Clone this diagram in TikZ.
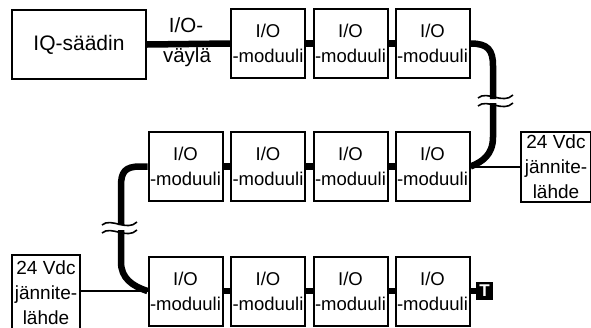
\documentclass[tikz,border=0pt]{standalone}
\usepackage{fontspec}
\setmainfont{Liberation Sans}
\begin{document}
\begin{tikzpicture}[x=1pt,y=-1pt,
  box/.style={draw, line width=2pt, inner sep=0pt},
  module/.style={box, minimum width=74pt, minimum height=69pt, align=center, font=\fontsize{18.5}{25}\selectfont},
  psu/.style={box, minimum width=70pt, align=center, font=\fontsize{19}{25}\selectfont},
  bus/.style={line width=6.5pt},
  thinline/.style={line width=2pt},
  wave/.style={line width=1.6pt},
  lbl/.style={inner sep=0pt, anchor=base, font=\fontsize{20.5}{24}\selectfont},
]
\useasboundingbox (0,0) rectangle (591,327);
\clip (0,0) rectangle (591,327);

% controller
\node[box, minimum width=134pt, minimum height=69pt, font=\fontsize{21}{25}\selectfont] (iq) at (79,44.5) {IQ-säädin};
\node[lbl] (lbA) at (186,32) {I/O-};
\node[lbl] (lbB) at (187,62) {väylä};

% top row
\node[module] (t2) at (268,43.5) {I/O\\-moduuli};
\node[module] (t3) at (350.5,43.5) {I/O\\-moduuli};
\node[module] (t4) at (432.5,43.5) {I/O\\-moduuli};
% middle row
\node[module] (m1) at (185.5,166.5) {I/O\\-moduuli};
\node[module] (m2) at (268,166.5) {I/O\\-moduuli};
\node[module] (m3) at (350.5,166.5) {I/O\\-moduuli};
\node[module] (m4) at (432.5,166.5) {I/O\\-moduuli};
% bottom row
\node[module] (b1) at (185.5,291) {I/O\\-moduuli};
\node[module] (b2) at (268,291) {I/O\\-moduuli};
\node[module] (b3) at (350.5,291) {I/O\\-moduuli};
\node[module] (b4) at (432.5,291) {I/O\\-moduuli};

% power supplies
\node[psu, minimum height=70pt] (psuR) at (556,167) {24 Vdc\\jännite-\\lähde};
\node[psu, minimum height=75pt, minimum width=68pt] (psuL) at (46,292.5) {24 Vdc\\jännite-\\lähde};

% terminator
\node[fill=black, minimum width=17pt, minimum height=18pt, inner sep=0pt, text=white, font=\fontsize{17}{17}\selectfont\bfseries] (term) at (484.5,291) {T};

% bus
\draw[bus] (iq.east) -- (t2.west);
\draw[bus] (t2.east) -- (t3.west);
\draw[bus] (t3.east) -- (t4.west);
\draw[bus] (m1.east) -- (m2.west);
\draw[bus] (m2.east) -- (m3.west);
\draw[bus] (m3.east) -- (m4.west);
\draw[bus] (b1.east) -- (b2.west);
\draw[bus] (b2.east) -- (b3.west);
\draw[bus] (b3.east) -- (b4.west);
\draw[bus] (b4.east) -- (term.west);

% right bend with break
\coordinate (rb1) at (493,99);
\coordinate (rb2) at (493,103);
\draw[bus] (t4.east) .. controls (488,43.5) and (493,50) .. (493,66) -- (rb1);
\draw[bus] (rb2) -- (493,137) .. controls (493,155) and (482,162) .. (m4.east);
\draw[wave] (478,98) .. controls (487,90) and (503,105) .. (513,95);
\draw[wave] (478,106) .. controls (487,98) and (503,113) .. (513,103);

% left bend with break
\coordinate (lb1) at (121,225);
\coordinate (lb2) at (121,230);
\draw[bus] (m1.west) -- (140,166.5) .. controls (125,166.5) and (121,172) .. (121,186) -- (lb1);
\draw[bus] (lb2) -- (121,262) .. controls (121,278) and (132,286) .. (b1.west);
\draw[wave] (102,225) .. controls (111,217) and (127,232) .. (137,222);
\draw[wave] (102,233) .. controls (111,225) and (127,240) .. (137,230);

% supply lines
\draw[thinline] (m4.east) -- (m4.east -| psuR.west);
\draw[thinline] (b1.west -| psuL.east) -- (b1.west);
\end{tikzpicture}
\end{document}
